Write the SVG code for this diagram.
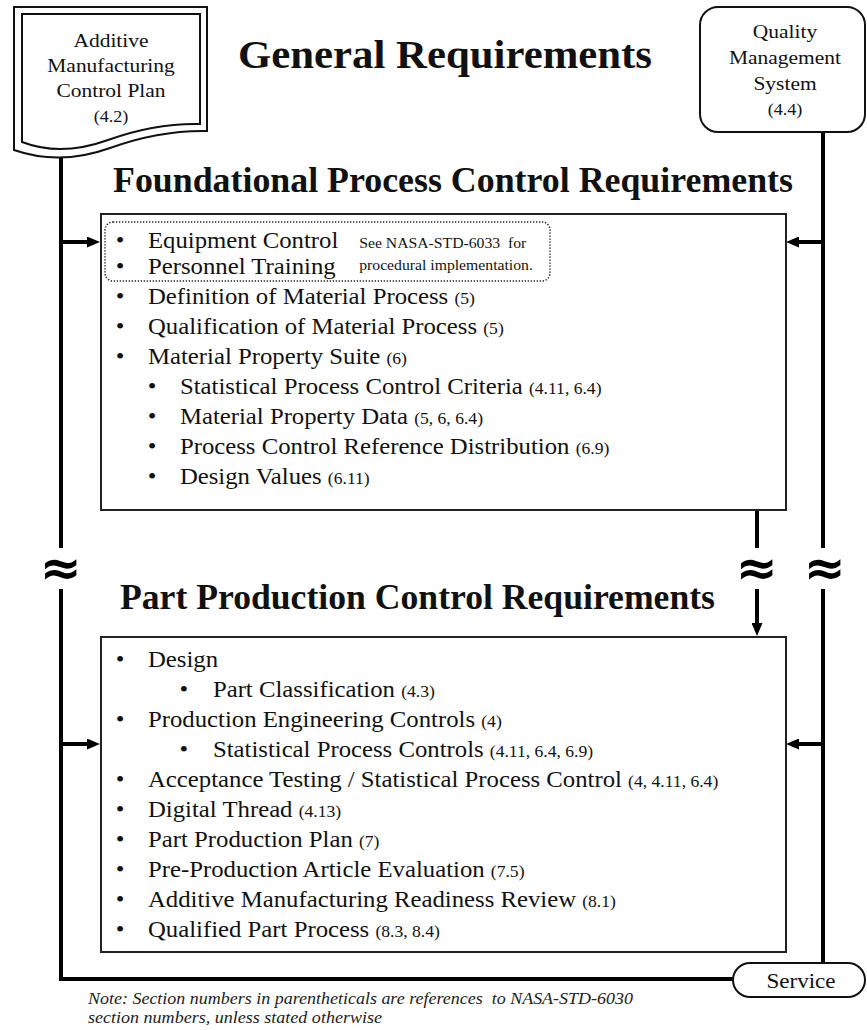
<svg xmlns="http://www.w3.org/2000/svg" width="867" height="1030" viewBox="0 0 867 1030">
  <style>
    .serif { font-family: "Liberation Serif", "Times New Roman", serif; fill: #111; }
    .title { font-weight: bold; }
    .node-label { font-size: 19.5px; text-anchor: middle; }
    .node-ref { font-size: 16.5px; text-anchor: middle; }
    .li { font-size: 22.5px; }
    .ref { font-size: 16px; }
    .bullet { font-size: 22.5px; text-anchor: middle; }
    .aside { font-size: 14.3px; }
    .frame { fill: #fff; stroke: #222; stroke-width: 2; }
    .wire { fill: none; stroke: #000; stroke-width: 4; }
    .brk { font-family: "DejaVu Sans", sans-serif; font-weight: bold; font-size: 50px; text-anchor: middle; fill: #000; }
    .note { font-family: "Liberation Serif", "Times New Roman", serif; font-style: italic; font-size: 16.5px; fill: #222; }
  </style>
  <defs>
    <marker id="head" viewBox="0 0 13 11" refX="5" refY="5.5" markerWidth="13" markerHeight="11" markerUnits="userSpaceOnUse" orient="auto">
      <path d="M0,0 L13,5.5 L0,11 z" fill="#000"/>
    </marker>
  </defs>

  <rect width="867" height="1030" fill="#fff"/>

  <!-- connectors -->
  <g id="connectors">
    <!-- left spine from the control plan to the service terminal -->
    <path class="wire" d="M61,156 V548"/>
    <path class="wire" d="M61,589 V979 H735"/>
    <path class="wire" d="M61,242 H92" marker-end="url(#head)"/>
    <path class="wire" d="M61,744 H92" marker-end="url(#head)"/>
    <!-- right spine from the quality management system -->
    <path class="wire" d="M823,132 V548"/>
    <path class="wire" d="M823,589 V963"/>
    <path class="wire" d="M823,242 H794" marker-end="url(#head)"/>
    <path class="wire" d="M823,744 H794" marker-end="url(#head)"/>
    <!-- foundational box feeding part production -->
    <path class="wire" d="M757,511 V548"/>
    <path class="wire" d="M757,589 V628" marker-end="url(#head)"/>
    <!-- break marks -->
    <text class="brk" x="61" y="585">≈</text>
    <text class="brk" x="757" y="585">≈</text>
    <text class="brk" x="825" y="585">≈</text>
  </g>

  <!-- main heading -->
  <text class="serif title" x="238" y="68" font-size="39" textLength="414" lengthAdjust="spacingAndGlyphs">General Requirements</text>

  <!-- document node -->
  <g id="control-plan">
    <path d="M14,7 H207 V131 Q160,130 110,148 T14,150 Z" fill="#fff" stroke="#111" stroke-width="2"/>
    <path d="M22,14 H200 V124 Q155,123 108,140 T22,142 Z" fill="none" stroke="#111" stroke-width="2"/>
    <g class="serif">
      <text class="node-label" transform="translate(111 0) scale(1.1 1)" x="0" y="47">Additive</text>
      <text class="node-label" transform="translate(111 0) scale(1.1 1)" x="0" y="72">Manufacturing</text>
      <text class="node-label" transform="translate(111 0) scale(1.1 1)" x="0" y="97">Control Plan</text>
      <text class="node-ref" transform="translate(111 0) scale(1.1 1)" x="0" y="122">(4.2)</text>
    </g>
  </g>

  <!-- rounded node -->
  <g id="quality-system">
    <rect x="700" y="7" width="165" height="125" rx="18" fill="#fff" stroke="#111" stroke-width="2"/>
    <g class="serif">
      <text class="node-label" transform="translate(785 0) scale(1.1 1)" x="0" y="38">Quality</text>
      <text class="node-label" transform="translate(785 0) scale(1.1 1)" x="0" y="64">Management</text>
      <text class="node-label" transform="translate(785 0) scale(1.1 1)" x="0" y="90">System</text>
      <text class="node-ref" transform="translate(785 0) scale(1.1 1)" x="0" y="115">(4.4)</text>
    </g>
  </g>

  <!-- foundational block -->
  <g id="foundational">
    <text class="serif title" x="113" y="192" font-size="35" textLength="680" lengthAdjust="spacingAndGlyphs">Foundational Process Control Requirements</text>
    <rect class="frame" x="101" y="214" width="685" height="296"/>
    <rect x="105" y="222" width="445" height="59" rx="8" fill="none" stroke="#222" stroke-width="1.5" stroke-dasharray="1.3 1.7"/>
    <g class="serif" transform="translate(148 0) scale(1.1 1)">
      <text class="bullet" x="-25.5" y="248">•</text>
      <text class="li" x="0" y="248">Equipment Control</text>
      <text class="bullet" x="-25.5" y="274">•</text>
      <text class="li" x="0" y="274">Personnel Training</text>
      <text class="aside" x="192" y="248">See NASA-STD-6033&#160; for</text>
      <text class="aside" x="192" y="270">procedural implementation.</text>

      <text class="bullet" x="-25.5" y="304">•</text>
      <text class="li" x="0" y="304">Definition of Material Process <tspan class="ref">(5)</tspan></text>
      <text class="bullet" x="-25.5" y="334">•</text>
      <text class="li" x="0" y="334">Qualification of Material Process <tspan class="ref">(5)</tspan></text>
      <text class="bullet" x="-25.5" y="364">•</text>
      <text class="li" x="0" y="364">Material Property Suite <tspan class="ref">(6)</tspan></text>
      <text class="bullet" x="3.6" y="394">•</text>
      <text class="li" x="29" y="394">Statistical Process Control Criteria <tspan class="ref">(4.11, 6.4)</tspan></text>
      <text class="bullet" x="3.6" y="424">•</text>
      <text class="li" x="29" y="424">Material Property Data <tspan class="ref">(5, 6, 6.4)</tspan></text>
      <text class="bullet" x="3.6" y="454">•</text>
      <text class="li" x="29" y="454">Process Control Reference Distribution <tspan class="ref">(6.9)</tspan></text>
      <text class="bullet" x="3.6" y="484">•</text>
      <text class="li" x="29" y="484">Design Values <tspan class="ref">(6.11)</tspan></text>
    </g>
  </g>

  <!-- part production block -->
  <g id="part-production">
    <text class="serif title" x="120" y="609" font-size="35" textLength="595" lengthAdjust="spacingAndGlyphs">Part Production Control Requirements</text>
    <rect class="frame" x="101" y="637" width="685" height="315"/>
    <g class="serif" transform="translate(148 0) scale(1.1 1)">
      <text class="bullet" x="-25.5" y="667">•</text>
      <text class="li" x="0" y="667">Design</text>
      <text class="bullet" x="32.7" y="697">•</text>
      <text class="li" x="59" y="697">Part Classification <tspan class="ref">(4.3)</tspan></text>
      <text class="bullet" x="-25.5" y="727">•</text>
      <text class="li" x="0" y="727">Production Engineering Controls <tspan class="ref">(4)</tspan></text>
      <text class="bullet" x="32.7" y="757">•</text>
      <text class="li" x="59" y="757">Statistical Process Controls <tspan class="ref">(4.11, 6.4, 6.9)</tspan></text>
      <text class="bullet" x="-25.5" y="787">•</text>
      <text class="li" x="0" y="787">Acceptance Testing / Statistical Process Control <tspan class="ref">(4, 4.11, 6.4)</tspan></text>
      <text class="bullet" x="-25.5" y="817">•</text>
      <text class="li" x="0" y="817">Digital Thread <tspan class="ref">(4.13)</tspan></text>
      <text class="bullet" x="-25.5" y="847">•</text>
      <text class="li" x="0" y="847">Part Production Plan <tspan class="ref">(7)</tspan></text>
      <text class="bullet" x="-25.5" y="877">•</text>
      <text class="li" x="0" y="877">Pre-Production Article Evaluation <tspan class="ref">(7.5)</tspan></text>
      <text class="bullet" x="-25.5" y="907">•</text>
      <text class="li" x="0" y="907">Additive Manufacturing Readiness Review <tspan class="ref">(8.1)</tspan></text>
      <text class="bullet" x="-25.5" y="937">•</text>
      <text class="li" x="0" y="937">Qualified Part Process <tspan class="ref">(8.3, 8.4)</tspan></text>
    </g>
  </g>

  <!-- terminal node -->
  <g id="service">
    <rect x="733" y="963" width="132" height="34" rx="17" fill="#fff" stroke="#111" stroke-width="2"/>
    <text class="serif" transform="translate(801 0) scale(1.1 1)" x="0" y="988" font-size="21" text-anchor="middle">Service</text>
  </g>

  <!-- footnote -->
  <text class="note" x="88" y="1004" textLength="545" lengthAdjust="spacingAndGlyphs">Note: Section numbers in parentheticals are references&#160; to NASA-STD-6030</text>
  <text class="note" x="88" y="1023" textLength="294" lengthAdjust="spacingAndGlyphs">section numbers, unless stated otherwise</text>
</svg>
